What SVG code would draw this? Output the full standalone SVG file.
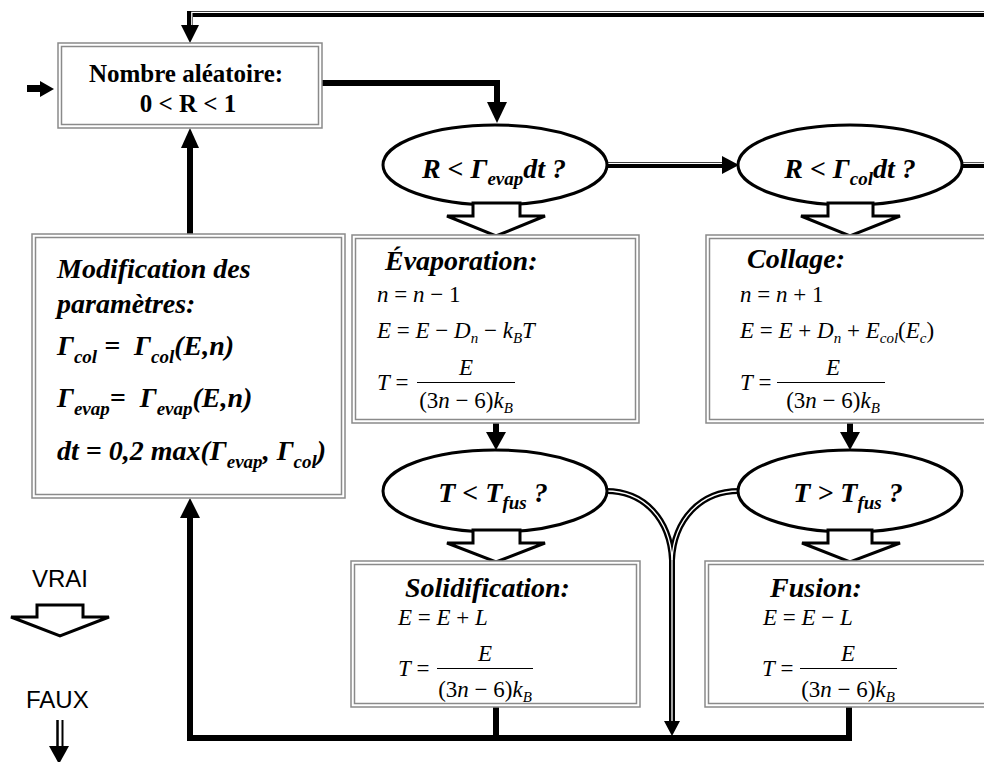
<svg xmlns="http://www.w3.org/2000/svg" width="984" height="762" viewBox="0 0 984 762">
<style>
.bo{fill:#fff;stroke:#8a8a8a;stroke-width:1.5}
.bi{fill:none;stroke:#8a8a8a;stroke-width:1.5}
.el{fill:#fff;stroke:#000;stroke-width:3}
.ha{fill:#fff;stroke:#000;stroke-width:3;stroke-linejoin:miter}
.thick{fill:none;stroke:#000;stroke-width:6;stroke-linejoin:miter}
.dbl{fill:none;stroke:#000;stroke-width:6;stroke-linejoin:miter}
.dw{fill:none;stroke:#fff;stroke-width:1.3}
.ah{fill:#000}
.bt{font-family:"Liberation Serif",serif;font-weight:bold;font-size:25px}
.bi2{font-family:"Liberation Serif",serif;font-weight:bold;font-style:italic;font-size:28px}
.sb{font-size:19px}
.m{font-family:"Liberation Serif",serif;font-size:23px}
.i{font-style:italic}
.s{font-size:15px}
.leg{font-family:"Liberation Sans",Arial,sans-serif;font-size:24px}
</style>

<g id="connectors">
  <!-- top return loop -->
  <path class="dbl" d="M990,14 H190 V28"/>
  <path class="dw" d="M990,12.3 H191.8 V28"/>
  <polygon class="ah" points="181,25 199,25 190,43"/>
  <!-- input arrow -->
  <rect x="27" y="85" width="15" height="7" fill="#000"/>
  <polygon class="ah" points="40,81 40,97 54,89"/>
  <!-- Nombre to ellipse 1 -->
  <path class="thick" d="M322,83 H497 V105"/>
  <polygon class="ah" points="487,102 507,102 497,123"/>
  <!-- Modification up to Nombre -->
  <path class="thick" d="M190,234 V146"/>
  <polygon class="ah" points="181,148 199,148 190,128"/>
  <!-- ellipse1 -> ellipse2 -->
  <path class="dbl" d="M607,165 H724"/>
  <path class="dw" d="M607,163.3 H724"/>
  <polygon class="ah" points="722,156 722,174 739,165"/>
  <!-- ellipse2 -> right -->
  <path class="dbl" d="M962,165 H990"/>
  <path class="dw" d="M962,163.3 H990"/>
  <!-- Evaporation -> T<Tfus -->
  <path class="thick" d="M496,423 V434"/>
  <polygon class="ah" points="486,432 506,432 496,450"/>
  <!-- Collage -> T>Tfus -->
  <path class="thick" d="M850,423 V434"/>
  <polygon class="ah" points="840,432 860,432 850,450"/>
  <!-- merging curves -->
  <path class="dbl" d="M606,491 C645,491 670,520 672,560 V724"/>
  <path class="dbl" d="M739,491 C700,491 674,520 672,560"/>
  <path class="dw" d="M606,491 C645,491 670,520 672,560 V724"/>
  <path class="dw" d="M739,491 C700,491 674,520 672,560"/>
  <polygon class="ah" points="664,721 680,721 672,736"/>
  <!-- bottom return line -->
  <path class="thick" d="M849,707 V738 H190 V516"/>
  <path class="thick" d="M496,707 V738"/>
  <polygon class="ah" points="180,518 200,518 190,498"/>
</g>

<g id="nombre">
  <rect class="bo" x="58" y="43" width="264" height="85"/>
  <rect class="bi" x="61.5" y="46.5" width="257" height="78"/>
  <text class="bt" x="186" y="82" text-anchor="middle">Nombre aléatoire:</text>
  <text class="bt" x="188" y="112" text-anchor="middle">0 &lt; R &lt; 1</text>
</g>

<g id="modification">
  <rect class="bo" x="32" y="234" width="313" height="264"/>
  <rect class="bi" x="35.5" y="237.5" width="306" height="257"/>
  <text class="bi2" x="57" y="278">Modification des</text>
  <text class="bi2" x="57" y="313">paramètres:</text>
  <text class="bi2" x="57" y="355">Γ<tspan class="sb" dy="8">col</tspan><tspan dy="-8"> =&#160; Γ</tspan><tspan class="sb" dy="8">col</tspan><tspan dy="-8">(E,n)</tspan></text>
  <text class="bi2" x="57" y="407">Γ<tspan class="sb" dy="8">evap</tspan><tspan dy="-8">=&#160; Γ</tspan><tspan class="sb" dy="8">evap</tspan><tspan dy="-8">(E,n)</tspan></text>
  <text class="bi2" x="57" y="460">dt = 0,2 max(Γ<tspan class="sb" dy="8">evap</tspan><tspan dy="-8">, Γ</tspan><tspan class="sb" dy="8">col</tspan><tspan dy="-8">)</tspan></text>
</g>

<g id="q-evap">
  <ellipse class="el" cx="495" cy="165" rx="112" ry="40"/>
  <text class="bi2" x="494" y="178" text-anchor="middle">R &lt; Γ<tspan class="sb" dy="7">evap</tspan><tspan dy="-7">dt ?</tspan></text>
  <polygon class="ha" points="473,203 520,203 520,216 545,216 496,236 447,216 473,216"/>
</g>

<g id="q-col">
  <ellipse class="el" cx="850" cy="165" rx="112" ry="40"/>
  <text class="bi2" x="850" y="178" text-anchor="middle">R &lt; Γ<tspan class="sb" dy="7">col</tspan><tspan dy="-7">dt ?</tspan></text>
  <polygon class="ha" points="828,203 873,203 873,216 900,216 850,236 801,216 828,216"/>
</g>

<g id="evaporation">
  <rect class="bo" x="352" y="235" width="287" height="188"/>
  <rect class="bi" x="355.5" y="238.5" width="280" height="181"/>
  <text class="bi2" x="385" y="270">Évaporation:</text>
  <text class="m" x="377" y="302"><tspan class="i">n</tspan> = <tspan class="i">n</tspan> − 1</text>
  <text class="m" x="377" y="338"><tspan class="i">E</tspan> = <tspan class="i">E</tspan> − <tspan class="i">D</tspan><tspan class="i s" dy="5">n</tspan><tspan dy="-5"> − </tspan><tspan class="i">k</tspan><tspan class="i s" dy="5">B</tspan><tspan class="i" dy="-5">T</tspan></text>
  <text class="m" x="377" y="390"><tspan class="i">T</tspan> =</text>
  <line x1="417" y1="382.5" x2="515" y2="382.5" stroke="#000" stroke-width="1.2"/>
  <text class="m i" x="466" y="375" text-anchor="middle">E</text>
  <text class="m" x="466" y="408" text-anchor="middle">(3<tspan class="i">n</tspan> − 6)<tspan class="i">k</tspan><tspan class="i s" dy="5">B</tspan></text>
</g>

<g id="collage">
  <rect class="bo" x="706" y="235" width="290" height="188"/>
  <rect class="bi" x="709.5" y="238.5" width="283" height="181"/>
  <text class="bi2" x="747" y="268">Collage:</text>
  <text class="m" x="740" y="302"><tspan class="i">n</tspan> = <tspan class="i">n</tspan> + 1</text>
  <text class="m" x="740" y="338"><tspan class="i">E</tspan> = <tspan class="i">E</tspan> + <tspan class="i">D</tspan><tspan class="i s" dy="5">n</tspan><tspan dy="-5"> + </tspan><tspan class="i">E</tspan><tspan class="i s" dy="5">col</tspan><tspan dy="-5">(</tspan><tspan class="i">E</tspan><tspan class="i s" dy="5">c</tspan><tspan dy="-5">)</tspan></text>
  <text class="m" x="740" y="390"><tspan class="i">T</tspan> =</text>
  <line x1="777" y1="382.5" x2="885" y2="382.5" stroke="#000" stroke-width="1.2"/>
  <text class="m i" x="833" y="375" text-anchor="middle">E</text>
  <text class="m" x="833" y="408" text-anchor="middle">(3<tspan class="i">n</tspan> − 6)<tspan class="i">k</tspan><tspan class="i s" dy="5">B</tspan></text>
</g>

<g id="q-solid">
  <ellipse class="el" cx="495" cy="491" rx="112" ry="41"/>
  <text class="bi2" x="493" y="502" text-anchor="middle">T &lt; T<tspan class="sb" dy="7">fus</tspan><tspan dy="-7"> ?</tspan></text>
  <polygon class="ha" points="473,530 520,530 520,543 545,543 496,562 447,543 473,543"/>
</g>

<g id="q-fusion">
  <ellipse class="el" cx="850" cy="491" rx="112" ry="41"/>
  <text class="bi2" x="848" y="502" text-anchor="middle">T &gt; T<tspan class="sb" dy="7">fus</tspan><tspan dy="-7"> ?</tspan></text>
  <polygon class="ha" points="828,530 872,530 872,543 900,543 850,562 802,543 828,543"/>
</g>

<g id="solidification">
  <rect class="bo" x="351" y="561" width="289" height="146"/>
  <rect class="bi" x="354.5" y="564.5" width="282" height="139"/>
  <text class="bi2" x="405" y="597">Solidification:</text>
  <text class="m" x="398" y="625"><tspan class="i">E</tspan> = <tspan class="i">E</tspan> + <tspan class="i">L</tspan></text>
  <text class="m" x="398" y="676"><tspan class="i">T</tspan> =</text>
  <line x1="437" y1="668.5" x2="533" y2="668.5" stroke="#000" stroke-width="1.2"/>
  <text class="m i" x="485" y="661" text-anchor="middle">E</text>
  <text class="m" x="485" y="697" text-anchor="middle">(3<tspan class="i">n</tspan> − 6)<tspan class="i">k</tspan><tspan class="i s" dy="5">B</tspan></text>
</g>

<g id="fusion">
  <rect class="bo" x="705" y="561" width="291" height="146"/>
  <rect class="bi" x="708.5" y="564.5" width="284" height="139"/>
  <text class="bi2" x="770" y="597">Fusion:</text>
  <text class="m" x="763" y="625"><tspan class="i">E</tspan> = <tspan class="i">E</tspan> − <tspan class="i">L</tspan></text>
  <text class="m" x="762" y="676"><tspan class="i">T</tspan> =</text>
  <line x1="800" y1="668.5" x2="897" y2="668.5" stroke="#000" stroke-width="1.2"/>
  <text class="m i" x="848" y="661" text-anchor="middle">E</text>
  <text class="m" x="848" y="697" text-anchor="middle">(3<tspan class="i">n</tspan> − 6)<tspan class="i">k</tspan><tspan class="i s" dy="5">B</tspan></text>
</g>

<g id="legend">
  <text class="leg" x="32" y="587">VRAI</text>
  <polygon class="ha" points="37,605 83,605 83,617 109,617 60,636 11,617 37,617"/>
  <text class="leg" x="26" y="708">FAUX</text>
  <line x1="57.5" y1="720" x2="57.5" y2="748" stroke="#000" stroke-width="2.5"/>
  <line x1="62.5" y1="720" x2="62.5" y2="748" stroke="#000" stroke-width="2"/>
  <polygon class="ah" points="49,746 69,746 59,764"/>
</g>
</svg>
